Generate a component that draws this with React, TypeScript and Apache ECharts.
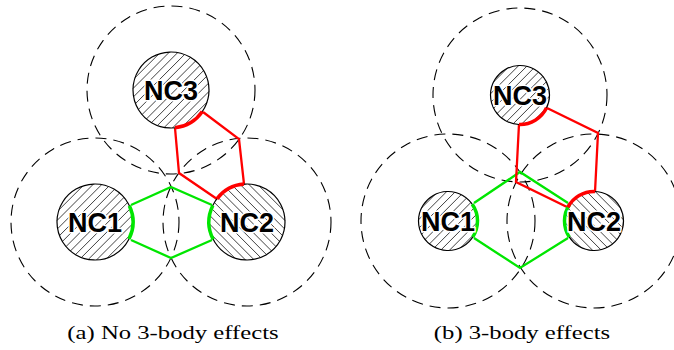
import React, { useEffect, useRef } from 'react';
import * as echarts from 'echarts';

// Nodes (data coordinates: x to the right, y downward)
const nodeNames = ['NC1', 'NC2', 'NC3', 'NC1', 'NC2', 'NC3'];
const nodeX = [95, 247, 171, 448, 594, 520];
const nodeY = [222, 222, 90, 221, 221, 95];
const nodeR = [38, 38, 38, 29.5, 29.5, 29.5];
const haloR = [84, 84, 84, 87, 87, 87];
const hatchDir = [1, -1, 1, 1, -1, 1];

// Bonds: each bond joins two nodes by an upper and a lower polyline
const bondFrom = [0, 2, 3, 5];
const bondTo = [1, 1, 4, 4];
const bondColor = ['#00e600', '#ff0000', '#00e600', '#ff0000'];
const bondUpper = [
  [[131, 205], [171, 187], [212, 205]],
  [[175, 128], [179, 173], [217, 199]],
  [[474, 203], [520, 172], [568, 203]],
  [[519, 124], [516, 182], [567, 207]],
];
const bondLower = [
  [[131, 240], [171, 258], [212, 240]],
  [[203, 112], [239, 139], [244, 184]],
  [[474, 238], [520, 268], [568, 238]],
  [[547, 108], [598, 133], [595, 192]],
];

const captions = ['(a) No 3-body effects', '(b) 3-body effects'];
const captionX = [173, 522];

export default function App() {
  const ref = useRef<HTMLDivElement>(null);
  useEffect(() => {
    if (!ref.current) return;
    const chart = echarts.init(ref.current, undefined, { renderer: 'svg' });

    const arcEl = (api: any, ni: number, p1: number[], p2: number[], color: string) => {
      const c = api.coord([nodeX[ni], nodeY[ni]]);
      const r = api.size([nodeR[ni], 0])[0];
      const q1 = api.coord(p1);
      const q2 = api.coord(p2);
      const a1 = Math.atan2(q1[1] - c[1], q1[0] - c[0]);
      const a2 = Math.atan2(q2[1] - c[1], q2[0] - c[0]);
      let d = a2 - a1;
      while (d > Math.PI) d -= 2 * Math.PI;
      while (d <= -Math.PI) d += 2 * Math.PI;
      const s = d >= 0 ? a1 : a1 + d;
      const e = d >= 0 ? a1 + d : a1;
      return {
        type: 'arc',
        shape: { cx: c[0], cy: c[1], r, startAngle: s, endAngle: e, clockwise: true },
        style: { fill: 'none', stroke: color, lineWidth: 3.5 },
      };
    };

    chart.setOption({
      animation: false,
      backgroundColor: '#ffffff',
      grid: { left: 0, right: 0, top: 0, bottom: 0 },
      xAxis: { type: 'value', min: 0, max: 674, show: false },
      yAxis: { type: 'value', min: 0, max: 350, inverse: true, show: false },
      series: [
        {
          type: 'custom',
          z: 1,
          silent: true,
          data: nodeX.map((x, i) => [x, nodeY[i], haloR[i]]),
          renderItem: (params: any, api: any) => {
            const c = api.coord([api.value(0), api.value(1)]);
            const r = api.size([api.value(2), 0])[0];
            return {
              type: 'circle',
              shape: { cx: c[0], cy: c[1], r },
              style: { fill: 'none', stroke: '#000', lineWidth: 1.1, lineDash: [11, 7] },
            };
          },
        },
        {
          type: 'custom',
          z: 2,
          silent: true,
          data: bondFrom.map((_, i) => [i]),
          renderItem: (params: any, api: any) => {
            const i = api.value(0);
            const mk = (pts: number[][]) => ({
              type: 'polyline',
              shape: { points: pts.map((p) => api.coord(p)) },
              style: { fill: 'none', stroke: bondColor[i], lineWidth: 2.3, lineJoin: 'miter' },
            });
            return { type: 'group', children: [mk(bondUpper[i]), mk(bondLower[i])] };
          },
        },
        {
          type: 'custom',
          z: 3,
          silent: true,
          data: nodeX.map((x, i) => [x, nodeY[i], nodeR[i], hatchDir[i]]),
          renderItem: (params: any, api: any) => {
            const c = api.coord([api.value(0), api.value(1)]);
            const R = api.size([api.value(2), 0])[0];
            const dir = api.value(3);
            const k = Math.SQRT1_2;
            const u = dir > 0 ? [k, -k] : [k, k];
            const n = dir > 0 ? [k, k] : [k, -k];
            const step = 6.2;
            const children: any[] = [
              { type: 'circle', shape: { cx: c[0], cy: c[1], r: R }, style: { fill: '#fff', stroke: 'none' } },
            ];
            const m = Math.floor(R / step) + 1;
            for (let j = -m; j <= m; j++) {
              const t = j * step + step / 2;
              if (Math.abs(t) >= R - 0.3) continue;
              const h = Math.sqrt(R * R - t * t);
              const mx = c[0] + t * n[0];
              const my = c[1] + t * n[1];
              children.push({
                type: 'line',
                shape: { x1: mx - h * u[0], y1: my - h * u[1], x2: mx + h * u[0], y2: my + h * u[1] },
                style: { stroke: '#000', lineWidth: 0.75 },
              });
            }
            children.push({
              type: 'circle',
              shape: { cx: c[0], cy: c[1], r: R },
              style: { fill: 'none', stroke: '#000', lineWidth: 1.2 },
            });
            return { type: 'group', children };
          },
        },
        {
          type: 'custom',
          z: 4,
          silent: true,
          data: bondFrom.map((_, i) => [i]),
          renderItem: (params: any, api: any) => {
            const i = api.value(0);
            const up = bondUpper[i];
            const lo = bondLower[i];
            return {
              type: 'group',
              children: [
                arcEl(api, bondFrom[i], up[0], lo[0], bondColor[i]),
                arcEl(api, bondTo[i], up[up.length - 1], lo[lo.length - 1], bondColor[i]),
              ],
            };
          },
        },
        {
          type: 'custom',
          z: 5,
          silent: true,
          data: nodeX.map((x, i) => [x, nodeY[i], i]),
          renderItem: (params: any, api: any) => {
            const c = api.coord([api.value(0), api.value(1)]);
            return {
              type: 'text',
              x: c[0],
              y: c[1] + 1,
              style: {
                text: nodeNames[api.value(2)],
                textAlign: 'center',
                textVerticalAlign: 'middle',
                align: 'center',
                verticalAlign: 'middle',
                font: 'bold 27px "Liberation Sans", Arial, sans-serif',
                fill: '#000',
                stroke: '#fff',
                lineWidth: 3,
                strokeFirst: true,
              },
            };
          },
        },
      ],
      graphic: captions.map((t, i) => ({
        type: 'text',
        x: captionX[i],
        y: 333,
        scaleX: 1.3,
        silent: true,
        style: {
          text: t,
          textAlign: 'center',
          textVerticalAlign: 'middle',
          align: 'center',
          verticalAlign: 'middle',
          font: '19px "Liberation Serif", serif',
          fill: '#000',
        },
      })),
    });
    return () => chart.dispose();
  }, []);
  return (
    <div
      ref={ref}
      style={{ position: 'absolute', left: 0, top: 0, width: 674, height: 350, background: '#fff' }}
    />
  );
}
